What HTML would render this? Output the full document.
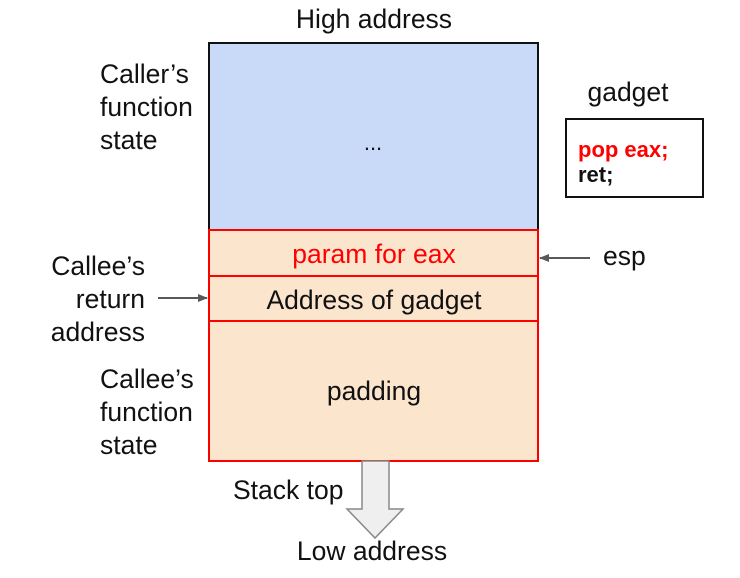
<!DOCTYPE html>
<html><head><style>
html,body{margin:0;padding:0;background:#fff;}
svg{display:block;font-family:"Liberation Sans",Arial,sans-serif;}
</style></head><body>
<svg width="740" height="578" viewBox="0 0 740 578" xmlns="http://www.w3.org/2000/svg">
<defs>
<marker id="ah" markerWidth="10" markerHeight="10" refX="9" refY="5" orient="auto" markerUnits="userSpaceOnUse">
<path d="M0,1 L10,5 L0,9 Z" fill="#595959"/></marker>
</defs>
<g font-size="26.5">
<text x="374" y="28" text-anchor="middle" fill="#111">High address</text>
<rect x="209" y="43" width="329" height="187" fill="#c9daf8" stroke="#111" stroke-width="2"/>
<text x="373" y="150" font-size="22" text-anchor="middle" fill="#111">...</text>
<rect x="209" y="230" width="329" height="46" fill="#fce5cd" stroke="#f00" stroke-width="2"/>
<rect x="209" y="276" width="329" height="45" fill="#fce5cd" stroke="#f00" stroke-width="2"/>
<rect x="209" y="321" width="329" height="140" fill="#fce5cd" stroke="#f00" stroke-width="2"/>
<text x="374" y="263" text-anchor="middle" fill="#f00">param for eax</text>
<text x="374" y="309" text-anchor="middle" fill="#111">Address of gadget</text>
<text x="374" y="400" text-anchor="middle" fill="#111">padding</text>
<text x="100" y="83" fill="#111">Caller’s</text>
<text x="100" y="116" fill="#111">function</text>
<text x="100" y="149" fill="#111">state</text>
<text x="145" y="275" text-anchor="end" fill="#111">Callee’s</text>
<text x="145" y="308" text-anchor="end" fill="#111">return</text>
<text x="145" y="341" text-anchor="end" fill="#111">address</text>
<text x="100" y="388" fill="#111">Callee’s</text>
<text x="100" y="421" fill="#111">function</text>
<text x="100" y="454" fill="#111">state</text>
<text x="603" y="265" fill="#111">esp</text>
<text x="628" y="101" text-anchor="middle" fill="#111">gadget</text>
<text x="233" y="499" fill="#111">Stack top</text>
<text x="372" y="560" text-anchor="middle" fill="#111">Low address</text>
</g>
<line x1="158" y1="298" x2="207" y2="298" stroke="#595959" stroke-width="2" marker-end="url(#ah)"/>
<line x1="590" y1="258" x2="540" y2="258" stroke="#595959" stroke-width="2" marker-end="url(#ah)"/>
<rect x="566" y="119" width="137" height="78" fill="#fff" stroke="#111" stroke-width="2"/>
<text x="578" y="157" font-size="22" font-weight="bold" fill="#f00">pop eax;</text>
<text x="578" y="182" font-size="22" font-weight="bold" fill="#111">ret;</text>
<path d="M362,461 L389,461 L389,509 L403,509 L375,538 L347,509 L362,509 Z" fill="#efefef" stroke="#888" stroke-width="1.5"/>
</svg>
</body></html>
